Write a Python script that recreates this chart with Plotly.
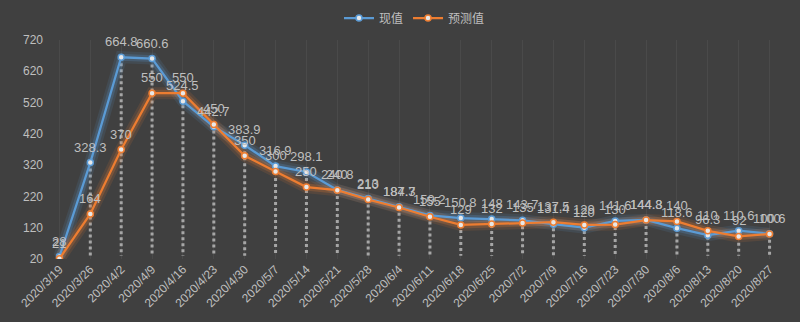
import plotly.graph_objects as go

dates = ["2020/3/19", "2020/3/26", "2020/4/2", "2020/4/9", "2020/4/16", "2020/4/23",
         "2020/4/30", "2020/5/7", "2020/5/14", "2020/5/21", "2020/5/28", "2020/6/4",
         "2020/6/11", "2020/6/18", "2020/6/25", "2020/7/2", "2020/7/9", "2020/7/16",
         "2020/7/23", "2020/7/30", "2020/8/6", "2020/8/13", "2020/8/20", "2020/8/27"]
actual = [28, 328.3, 664.8, 660.6, 524.5, 442.7, 383.9, 316.9, 298.1, 240.8, 213, 187.3,
          159.2, 150.8, 148, 143.7, 131.4, 120, 141.6, 144.8, 118.6, 96.3, 110.6, 100.6]
forecast = [21, 164, 370, 550, 550, 450, 350, 300, 250, 240, 210, 184.7,
            155, 129, 132, 135, 137.5, 129, 130, 144.3, 140, 110, 92, 100]
y_ticks = [20, 120, 220, 320, 420, 520, 620, 720]

BLUE = "#5b9bd5"
ORANGE = "#ed7d31"
TXT = "#bfbfbf"
BG = "#404040"

fig = go.Figure()

# drop lines
dx, dy = [], []
for d, a, f in zip(dates, actual, forecast):
    dx += [d, d, None]
    dy += [max(a, f), y_ticks[0] + 10, None]
fig.add_trace(go.Scatter(x=dx, y=dy, mode="lines", showlegend=False, hoverinfo="skip",
                         line=dict(color="#a6a6a6", width=3, dash="dot")))

def fmt(v):
    return ("%g" % v)

for vals, col in [(actual, BLUE), (forecast, ORANGE)]:
    for w, op in [(12, 0.12), (7, 0.22)]:
        fig.add_trace(go.Scatter(x=dates, y=vals, mode="lines", showlegend=False,
                                 hoverinfo="skip", opacity=op,
                                 line=dict(color=col, width=w)))

for vals, col, name in [(actual, BLUE, "现值"), (forecast, ORANGE, "预测值")]:
    fig.add_trace(go.Scatter(
        x=dates, y=vals, name=name, mode="lines+markers",
        line=dict(color=col, width=2.25),
        marker=dict(size=6, color="#e8e8e8", line=dict(color=col, width=1.5))))
    for d, v in zip(dates, vals):
        fig.add_annotation(x=d, y=v, text=fmt(v), showarrow=False, yanchor="bottom",
                           yshift=6, font=dict(color=TXT, size=13,
                                               family="Liberation Sans, Arial"))

fig.update_layout(
    width=800, height=322,
    paper_bgcolor=BG, plot_bgcolor=BG,
    margin=dict(l=44, r=15, t=40, b=63, autoexpand=False),
    font=dict(family="Noto Sans CJK SC, sans-serif", color=TXT),
    legend=dict(orientation="h", x=0.5, xanchor="center", yref="container",
                y=1 - 18 / 322, yanchor="middle",
                font=dict(size=12, color=TXT), bgcolor="rgba(0,0,0,0)"),
    showlegend=True,
)
fig.update_xaxes(type="category", range=[-0.5, len(dates) - 0.5], tickangle=-45,
                 showgrid=True, gridcolor="#4a4a4a", gridwidth=1,
                 tickfont=dict(size=12, color=TXT, family="Liberation Sans, Arial"),
                 showline=False, zeroline=False, ticks="")
fig.update_yaxes(range=[y_ticks[0], y_ticks[-1]], tickvals=y_ticks, showgrid=False,
                 zeroline=False, tickfont=dict(size=12, color=TXT, family="Liberation Sans, Arial"))

fig.write_html("out.html")
